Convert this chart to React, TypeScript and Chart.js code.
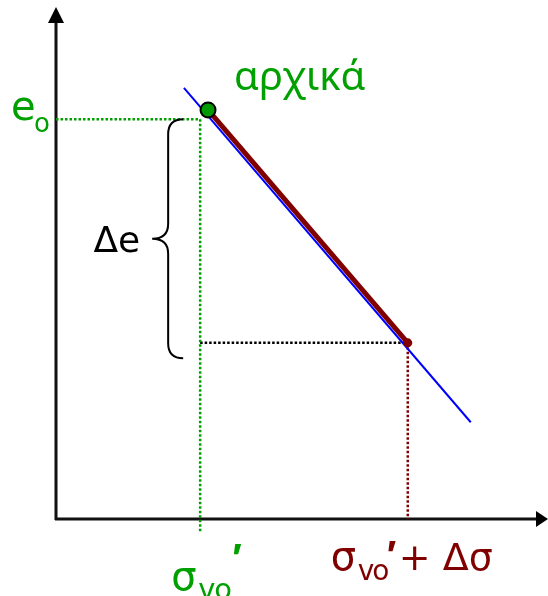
import { useEffect, useRef } from "react";
import { Chart, registerables } from "chart.js";

Chart.register(...registerables);

// Axis limits (arbitrary schematic units)
const xLimits = [0, 10];
const yLimits = [0, 10];

// Straight e – σ' line
const lineX = [2.6, 8.43];
const lineY = [8.42, 1.89];

// Initial state (σ'vo, e0) and final state (σ'vo + Δσ, e0 − Δe)
const initialPoint = [3.09, 7.99];
const finalPoint = [7.15, 3.44];

// Guide levels
const sigmaVo = 2.93;
const e0 = 7.81;
const braceBottom = 3.14;
const guideBelowAxis = -0.25;

const GREEN = "#00a000";
const MAROON = "#800000";
const BLUE = "#0000ff";
const FONT = "'DejaVu Sans', Verdana, sans-serif";
const GREEK_FONT = "'Noto Sans', 'DejaVu Sans', sans-serif";
const PRIME_FONT = "'Liberation Sans', Arial, sans-serif";

function pt(x: number, y: number) {
  return { x, y };
}

const diagramPlugin = {
  id: "diagram",
  beforeDatasetsDraw(chart: any) {
    const { ctx, scales } = chart;
    const xs = scales.x;
    const ys = scales.y;
    const ox = xs.getPixelForValue(xLimits[0]);
    const oy = ys.getPixelForValue(yLimits[0]);
    const right = xs.getPixelForValue(xLimits[1]);
    const top = ys.getPixelForValue(yLimits[1]);
    ctx.save();
    ctx.strokeStyle = "#111";
    ctx.fillStyle = "#000";
    ctx.lineWidth = 3;
    // vertical axis
    ctx.beginPath();
    ctx.moveTo(ox, oy + 1);
    ctx.lineTo(ox, top + 14);
    ctx.stroke();
    ctx.beginPath();
    ctx.moveTo(ox, top);
    ctx.lineTo(ox - 8, top + 16);
    ctx.lineTo(ox + 8, top + 16);
    ctx.closePath();
    ctx.fill();
    // horizontal axis
    ctx.beginPath();
    ctx.moveTo(ox - 1, oy);
    ctx.lineTo(right - 10, oy);
    ctx.stroke();
    ctx.beginPath();
    ctx.moveTo(right, oy);
    ctx.lineTo(right - 12, oy - 8);
    ctx.lineTo(right - 12, oy + 8);
    ctx.closePath();
    ctx.fill();
    ctx.restore();
  },
  afterDraw(chart: any) {
    const { ctx, scales } = chart;
    const xs = scales.x;
    const ys = scales.y;
    const ox = xs.getPixelForValue(xLimits[0]);
    const oy = ys.getPixelForValue(yLimits[0]);
    const sx = xs.getPixelForValue(sigmaVo);
    const eTop = ys.getPixelForValue(e0);
    const eBot = ys.getPixelForValue(braceBottom);
    const fx = xs.getPixelForValue(finalPoint[0]);
    const ipx = xs.getPixelForValue(initialPoint[0]);
    const ipy = ys.getPixelForValue(initialPoint[1]);

    ctx.save();
    // curly brace marking Δe
    const inner = sx - 17;
    const stem = sx - 32;
    const tip = sx - 48;
    const mid = (eTop + eBot) / 2;
    const r = 15;
    ctx.strokeStyle = "#000";
    ctx.lineWidth = 2;
    ctx.beginPath();
    ctx.moveTo(inner, eTop);
    ctx.quadraticCurveTo(stem, eTop, stem, eTop + r);
    ctx.lineTo(stem, mid - r);
    ctx.quadraticCurveTo(stem, mid, tip, mid);
    ctx.quadraticCurveTo(stem, mid, stem, mid + r);
    ctx.lineTo(stem, eBot - r);
    ctx.quadraticCurveTo(stem, eBot, inner, eBot);
    ctx.stroke();

    ctx.textBaseline = "alphabetic";
    ctx.textAlign = "left";

    // e0 label
    ctx.fillStyle = GREEN;
    ctx.font = `40px ${FONT}`;
    ctx.fillText("e", ox - 45, eTop + 1);
    ctx.font = `26px ${FONT}`;
    ctx.fillText("o", ox - 22, eTop + 13);

    // initial state label
    ctx.font = `40px ${GREEK_FONT}`;
    ctx.fillText("αρχικά", ipx + 26, ipy - 20);

    // Δe label
    ctx.fillStyle = "#000";
    ctx.font = `36px ${FONT}`;
    ctx.textAlign = "right";
    ctx.fillText("Δe", tip - 12, mid + 13);
    ctx.textAlign = "left";

    // σ'vo label
    ctx.fillStyle = GREEN;
    ctx.font = `40px ${FONT}`;
    ctx.fillText("σ", sx - 29, oy + 71);
    ctx.font = `29px ${FONT}`;
    (ctx as any).letterSpacing = "-1px";
    ctx.fillText("vo", sx - 2, oy + 80);
    (ctx as any).letterSpacing = "0px";
    ctx.font = `bold 40px ${PRIME_FONT}`;
    ctx.fillText("′", sx + 32, oy + 53);

    // σ'vo + Δσ label
    ctx.fillStyle = MAROON;
    ctx.font = `40px ${FONT}`;
    ctx.fillText("σ", fx - 77, oy + 51);
    ctx.font = `28px ${FONT}`;
    (ctx as any).letterSpacing = "-2px";
    ctx.fillText("vo", fx - 50, oy + 61);
    (ctx as any).letterSpacing = "0px";
    ctx.font = `bold 40px ${PRIME_FONT}`;
    ctx.fillText("′", fx - 21, oy + 50);
    ctx.font = `38px ${FONT}`;
    ctx.fillText("+ Δσ", fx - 9, oy + 51);
    ctx.restore();
  },
};

export default function App() {
  const canvasRef = useRef<HTMLCanvasElement | null>(null);

  useEffect(() => {
    document.body.style.margin = "0";
    const canvas = canvasRef.current;
    if (!canvas) return;

    const chart = new Chart(canvas, {
      type: "scatter",
      data: {
        datasets: [
          {
            // initial state marker
            data: [pt(initialPoint[0], initialPoint[1])],
            pointRadius: 7.5,
            pointBackgroundColor: "#009900",
            pointBorderColor: "#000",
            pointBorderWidth: 2,
            showLine: false,
          },
          {
            // final state marker
            data: [pt(finalPoint[0], finalPoint[1])],
            pointRadius: 4.5,
            pointBackgroundColor: MAROON,
            pointBorderColor: MAROON,
            pointBorderWidth: 0,
            showLine: false,
          },
          {
            // loading path
            data: [pt(initialPoint[0], initialPoint[1]), pt(finalPoint[0], finalPoint[1])],
            showLine: true,
            borderColor: MAROON,
            borderWidth: 5,
            pointRadius: 0,
          },
          {
            data: [pt(lineX[0], lineY[0]), pt(lineX[1], lineY[1])],
            showLine: true,
            borderColor: BLUE,
            borderWidth: 2,
            pointRadius: 0,
          },
          {
            // e0 guide
            data: [pt(xLimits[0], e0), pt(sigmaVo, e0)],
            showLine: true,
            borderColor: GREEN,
            borderWidth: 2.5,
            borderDash: [2.5, 2],
            pointRadius: 0,
          },
          {
            // σ'vo guide
            data: [pt(sigmaVo, e0), pt(sigmaVo, guideBelowAxis)],
            showLine: true,
            borderColor: GREEN,
            borderWidth: 2.5,
            borderDash: [2.5, 2],
            pointRadius: 0,
            clip: false,
          },
          {
            // final void ratio guide
            data: [pt(sigmaVo, finalPoint[1]), pt(finalPoint[0], finalPoint[1])],
            showLine: true,
            borderColor: "#000",
            borderWidth: 2.5,
            borderDash: [2.5, 2],
            pointRadius: 0,
          },
          {
            // final stress guide
            data: [pt(finalPoint[0], finalPoint[1]), pt(finalPoint[0], yLimits[0])],
            showLine: true,
            borderColor: MAROON,
            borderWidth: 2.5,
            borderDash: [2.5, 2],
            pointRadius: 0,
          },
        ],
      },
      options: {
        responsive: false,
        animation: false,
        events: [],
        layout: { autoPadding: false, padding: { left: 56, right: 0, top: 7, bottom: 77 } },
        plugins: { legend: { display: false }, tooltip: { enabled: false } },
        scales: {
          x: { type: "linear", display: false, min: xLimits[0], max: xLimits[1] },
          y: { type: "linear", display: false, min: yLimits[0], max: yLimits[1] },
        },
      },
      plugins: [diagramPlugin],
    });

    return () => chart.destroy();
  }, []);

  return (
    <div style={{ width: 548, height: 596, background: "#fff" }}>
      <canvas ref={canvasRef} width={548} height={596} />
    </div>
  );
}
